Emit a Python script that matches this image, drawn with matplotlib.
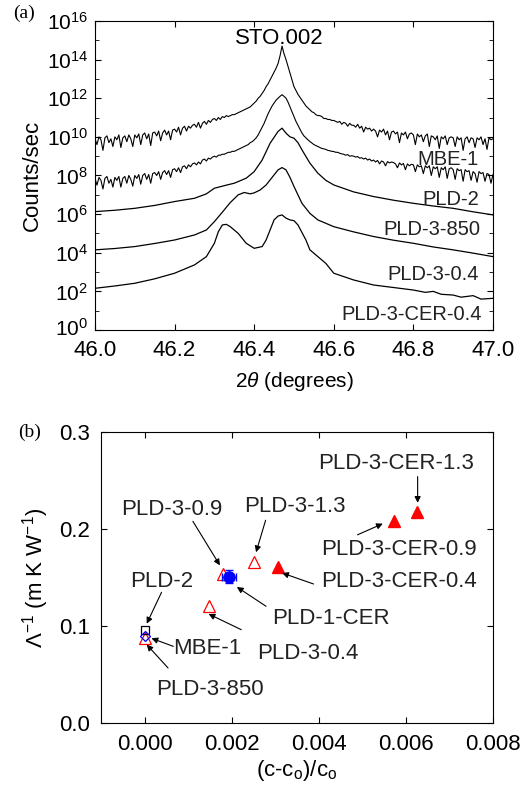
import numpy as np
import matplotlib
matplotlib.use('Agg')
import matplotlib.pyplot as plt
from matplotlib.transforms import ScaledTranslation

plt.rcParams['font.family'] = ['Liberation Sans', 'DejaVu Sans']
plt.rcParams['mathtext.fontset'] = 'custom'
plt.rcParams['mathtext.rm'] = 'Liberation Sans'
plt.rcParams['mathtext.it'] = 'Liberation Sans:italic'
plt.rcParams['mathtext.bf'] = 'Liberation Sans:bold'

# ---- panel (a): XRD scans, log10(counts/sec) ----
x_fine = np.round(np.linspace(46.0, 47.0, 201), 3)

mbe1 = [9.9, 9.6, 10.0, 9.85, 9.3, 9.95, 10.05, 9.7, 9.9, 9.5,
        10.0, 9.85, 10.1, 9.45, 9.95, 10.05, 9.75, 10.1, 9.9, 9.5,
        10.1, 9.95, 10.15, 9.6, 10.1, 10.2, 9.9, 10.15, 9.55, 10.2,
        10.25, 10.05, 10.3, 9.8, 10.2, 10.35, 10.1, 10.3, 9.85, 10.35,
        10.4, 10.25, 10.5, 10.1, 10.45, 10.55, 10.3, 10.55, 10.45, 10.6,
        10.65, 10.5, 10.75, 10.45, 10.7, 10.8, 10.65, 10.85, 10.75, 10.9,
        10.95, 10.85, 11.0, 10.9, 11.05, 11.0, 11.1, 11.05, 11.1, 11.15,
        11.15, 11.2, 11.25, 11.3, 11.35, 11.4, 11.45, 11.5, 11.55, 11.65,
        11.75, 11.85, 12.0, 12.1, 12.25, 12.4, 12.6, 12.75, 12.95, 13.15,
        13.35, 13.55, 13.8, 14.2, 14.7, 14.3, 14.0, 13.65, 13.3, 12.95,
        12.6, 12.4, 12.2, 12.05, 11.9, 11.75, 11.6, 11.5, 11.4, 11.3,
        11.25, 11.15, 11.1, 11.1, 11.05, 10.95, 10.95, 10.9, 10.9, 10.85,
        10.85, 10.8, 10.75, 10.8, 10.65, 10.75, 10.7, 10.55, 10.7, 10.6,
        10.6, 10.5, 10.65, 10.45, 10.55, 10.25, 10.5, 10.4, 10.45, 10.3,
        10.4, 10.3, 10.0, 10.35, 10.25, 10.4, 10.1, 10.3, 9.85, 10.25,
        10.3, 10.15, 10.25, 9.7, 10.2, 10.1, 10.25, 9.9, 10.15, 10.2,
        10.1, 9.6, 10.15, 10.0, 10.1, 9.75, 10.05, 10.15, 9.5, 10.05,
        10.0, 9.85, 10.05, 9.4, 10.0, 9.9, 10.05, 9.6, 9.95, 10.0,
        9.95, 9.5, 10.0, 9.85, 9.95, 9.3, 9.9, 10.0, 9.7, 9.95,
        9.9, 9.45, 9.95, 9.85, 10.0, 9.6, 9.9, 9.35, 9.95, 9.85,
        9.9]

pld2 = [7.85, 7.5, 7.9, 7.75, 7.3, 7.85, 7.95, 7.6, 7.8, 7.4,
        7.9, 7.75, 7.95, 7.4, 7.85, 7.95, 7.6, 8.0, 7.8, 7.45,
        8.0, 7.85, 8.05, 7.55, 8.0, 8.1, 7.8, 8.05, 7.6, 8.1,
        8.15, 8.0, 8.2, 7.8, 8.15, 8.25, 8.05, 8.25, 7.9, 8.3,
        8.35, 8.2, 8.4, 8.15, 8.45, 8.5, 8.35, 8.55, 8.45, 8.6,
        8.65, 8.55, 8.7, 8.6, 8.8, 8.85, 8.75, 8.9, 8.85, 8.95,
        9.0, 8.95, 9.05, 9.05, 9.1, 9.1, 9.15, 9.2, 9.2, 9.25,
        9.25, 9.3, 9.35, 9.4, 9.45, 9.5, 9.55, 9.6, 9.7, 9.75,
        9.84, 9.95, 10.1, 10.3, 10.5, 10.7, 10.95, 11.2, 11.4, 11.6,
        11.75, 11.9, 12.0, 12.1, 12.18, 12.1, 12.0, 11.8, 11.55, 11.3,
        11.05, 10.8, 10.6, 10.4, 10.2, 10.05, 9.95, 9.85, 9.76, 9.68,
        9.6, 9.55, 9.5, 9.45, 9.4, 9.38, 9.35, 9.3, 9.28, 9.25,
        9.24, 9.2, 9.2, 9.15, 9.12, 9.1, 9.05, 9.08, 9.0, 9.02,
        9.0, 8.95, 8.98, 8.9, 8.92, 8.85, 8.9, 8.8, 8.85, 8.75,
        8.8, 8.7, 8.78, 8.6, 8.75, 8.7, 8.5, 8.72, 8.65, 8.7,
        8.67, 8.6, 8.4, 8.65, 8.55, 8.62, 8.3, 8.6, 8.5, 8.58,
        8.55, 8.2, 8.55, 8.45, 8.5, 8.1, 8.5, 8.4, 8.5, 8.0,
        8.45, 8.35, 8.45, 7.9, 8.4, 8.3, 8.45, 7.85, 8.35, 8.4,
        8.3, 7.8, 8.35, 8.25, 8.3, 7.7, 8.3, 8.2, 8.25, 7.75,
        8.2, 8.1, 7.65, 8.2, 8.1, 8.15, 7.7, 8.1, 8.05, 7.6,
        8.05]

x_850 = [46.00, 46.05, 46.10, 46.15, 46.20, 46.25, 46.28, 46.30, 46.33, 46.35,
         46.38, 46.40, 46.42, 46.44, 46.46, 46.47, 46.48, 46.49, 46.50, 46.51,
         46.52, 46.54, 46.56, 46.58, 46.60, 46.65, 46.70, 46.75, 46.80, 46.85,
         46.90, 46.95, 47.00]
pld3_850 = [6.13, 6.2, 6.3, 6.45, 6.65, 6.82, 7.05, 7.34, 7.5, 7.6,
            7.86, 8.2, 8.8, 9.67, 10.28, 10.45, 10.19, 10.0, 9.93, 9.7,
            9.33, 8.64, 8.12, 7.75, 7.51, 7.15, 6.91, 6.72, 6.56, 6.42,
            6.3, 6.12, 5.96]

x_04 = [46.00, 46.05, 46.10, 46.15, 46.20, 46.25, 46.28, 46.30, 46.32, 46.34,
        46.36, 46.375, 46.39, 46.40, 46.415, 46.43, 46.45, 46.46, 46.47, 46.48,
        46.49, 46.50, 46.52, 46.54, 46.56, 46.60, 46.65, 46.70, 46.75, 46.80,
        46.85, 46.90, 46.95, 47.00]
pld3_04 = [4.15, 4.22, 4.32, 4.48, 4.66, 4.92, 5.18, 5.61, 6.1, 6.6,
           7.0, 7.12, 7.05, 7.1, 7.25, 7.51, 8.03, 8.29, 8.41, 8.29,
           7.9, 7.43, 6.56, 6.04, 5.7, 5.35, 5.08, 4.84, 4.65, 4.49,
           4.3, 4.15, 3.98, 3.8]

x_cer = [46.00, 46.05, 46.10, 46.15, 46.20, 46.25, 46.28, 46.30, 46.31, 46.32,
         46.33, 46.34, 46.36, 46.38, 46.40, 46.42, 46.43, 46.44, 46.45, 46.46,
         46.47, 46.48, 46.49, 46.50, 46.51, 46.53, 46.54, 46.56, 46.58, 46.60,
         46.65, 46.70, 46.75, 46.80, 46.83, 46.85, 46.87, 46.90, 46.92, 46.95,
         46.97, 47.00]
pld3_cer04 = [2.16, 2.28, 2.42, 2.65, 2.94, 3.37, 3.8, 4.49, 5.09, 5.44,
              5.47, 5.35, 5.0, 4.49, 4.23, 4.32, 4.66, 5.18, 5.7, 5.9,
              5.96, 5.79, 5.7, 5.66, 5.44, 4.66, 4.15, 3.8, 3.45, 2.94,
              2.59, 2.33, 2.2, 2.07, 1.95, 2.0, 1.85, 1.81, 1.7, 1.78,
              1.6, 1.64]

scan_names = ['MBE-1', 'PLD-2', 'PLD-3-850', 'PLD-3-0.4', 'PLD-3-CER-0.4']

# ---- panel (b): inverse thermal conductivity vs strain ----
open_tri_names = ['PLD-3-850', 'PLD-3-0.4', 'PLD-3-0.9', 'PLD-3-1.3']
open_tri_x = [0.0, 0.00147, 0.00179, 0.00251]
open_tri_y = [0.088, 0.121, 0.154, 0.166]

fill_tri_names = ['PLD-3-CER-0.4', 'PLD-3-CER-0.9', 'PLD-3-CER-1.3']
fill_tri_x = [0.00307, 0.00572, 0.00626]
fill_tri_y = [0.161, 0.208, 0.217]

pld2_x, pld2_y = 0.0, 0.096
mbe1_x, mbe1_y = 0.0, 0.090
cer1_x, cer1_y = 0.00193, 0.151
cer1_xerr, cer1_yerr = 0.00016, 0.0065

fig = plt.figure(figsize=(5.23, 7.88), dpi=100)

# ---------------- (a) ----------------
ax1 = fig.add_axes([0.1816, 0.5812, 0.761, 0.3922])
ax1.plot(x_fine, 10 ** np.array(mbe1), color='black', lw=0.8)
ax1.plot(x_fine, 10 ** np.array(pld2), color='black', lw=0.8)
ax1.plot(x_850, 10 ** np.array(pld3_850), color='black', lw=0.9)
ax1.plot(x_04, 10 ** np.array(pld3_04), color='black', lw=0.9)
ax1.plot(x_cer, 10 ** np.array(pld3_cer04), color='black', lw=0.9)
ax1.set_yscale('log')
ax1.set_xlim(46.0, 47.0)
ax1.set_ylim(1, 1e16)
ax1.set_yticks(10.0 ** np.arange(0, 17, 2))
ax1.set_yticks(10.0 ** np.arange(1, 17, 2), minor=True)
ax1.set_yticklabels(['10$^{%d}$' % p for p in range(0, 17, 2)])
ax1.yaxis.set_minor_formatter(plt.NullFormatter())
ax1.set_xticks(np.arange(46.0, 47.01, 0.2))
ax1.set_xticklabels(['%.1f' % v for v in np.arange(46.0, 47.01, 0.2)])
ax1.tick_params(which='both', direction='in', top=True, right=True)
ax1.tick_params(axis='x', labelsize=16, pad=7)
ax1.tick_params(axis='y', labelsize=15, pad=5)
ax1.tick_params(which='major', length=4)
ax1.tick_params(which='minor', length=3)
ax1.set_xlabel(r'2$\it{\theta}$ (degrees)', fontsize=15, labelpad=7)
ax1.set_ylabel('Counts/sec', fontsize=16, labelpad=3)
# lift the 10^0 label a couple of points so it clears the 46.0 label
lab0 = ax1.get_yticklabels()[0]
lab0.set_transform(lab0.get_transform() + ScaledTranslation(0, 2.5 / 72, fig.dpi_scale_trans))

ax1.text(46.4636, 10 ** 15.1, 'STO.002', fontsize=16, ha='center', va='center')
label_x = [46.964, 46.964, 46.968, 46.964, 46.972]
label_y = [8.84, 6.74, 5.18, 2.85, 0.78]
for name, lx, ly in zip(scan_names, label_x, label_y):
    ax1.text(lx, 10 ** ly, name, fontsize=14.5, ha='right', va='center', color='#222222')

fig.text(0.025, 0.983, '(a)', fontsize=14, family=['Liberation Serif', 'DejaVu Serif'],
         ha='left', va='center')

# ---------------- (b) ----------------
ax2 = fig.add_axes([0.1931, 0.0825, 0.7495, 0.3693])
ax2.plot(open_tri_x, open_tri_y, '^', ms=8, mfc='white', mec='red', mew=0.9, ls='none')
ax2.plot(fill_tri_x, fill_tri_y, '^', ms=8, mfc='red', mec='red', ls='none')
ax2.plot([pld2_x], [pld2_y], 's', ms=6, mfc='none', mec='black', mew=0.9)
ax2.plot([mbe1_x], [mbe1_y], 'D', ms=5, mfc='none', mec='blue', mew=0.9)
ax2.errorbar([cer1_x], [cer1_y], xerr=[cer1_xerr], yerr=[cer1_yerr], fmt='o', ms=8,
             color='blue', ecolor='blue', elinewidth=0.9, capsize=3)
ax2.set_xlim(-0.001, 0.008)
ax2.set_ylim(0.0, 0.3)
ax2.set_xticks([0.0, 0.002, 0.004, 0.006, 0.008])
ax2.set_xticklabels(['0.000', '0.002', '0.004', '0.006', '0.008'])
ax2.set_yticks([0.0, 0.1, 0.2, 0.3])
ax2.set_yticklabels(['0.0', '0.1', '0.2', '0.3'])
ax2.tick_params(direction='in', top=True, right=True, labelsize=16, length=4, pad=8)
ax2.set_xlabel(r'(c-c$_\mathregular{o}$)/c$_\mathregular{o}$', fontsize=16, labelpad=2)
ax2.set_ylabel(r'$\mathit{\Lambda}^{-1}$ (m K W$^{-1}$)', fontsize=16, labelpad=6)

# label text centres and arrow (start -> end) for each sample
notes = [
    ('PLD-3-CER-1.3', (0.00578, 0.268), (0.00627, 0.254), (0.00627, 0.227)),
    ('PLD-3-CER-0.9', (0.00585, 0.179), (0.00489, 0.194), (0.00547, 0.2055)),
    ('PLD-3-CER-0.4', (0.00585, 0.146), (0.00388, 0.1433), (0.00316, 0.1546)),
    ('PLD-1-CER', (0.00427, 0.108), (0.00279, 0.1203), (0.00212, 0.1402)),
    ('PLD-3-0.4', (0.00376, 0.0715), (0.00222, 0.0962), (0.00147, 0.1124)),
    ('PLD-3-1.3', (0.00345, 0.2234), (0.00278, 0.209), (0.00256, 0.176)),
    ('PLD-3-0.9', (0.00063, 0.2206), (0.00111, 0.2079), (0.00173, 0.1625)),
    ('PLD-2', (0.00039, 0.146), (0.00039, 0.1347), (0.00005, 0.1024)),
    ('MBE-1', (0.00144, 0.0763), (0.00066, 0.079), (0.00016, 0.0873)),
    ('PLD-3-850', (0.00149, 0.0344), (0.00054, 0.0567), (0.00005, 0.0808)),
]
for name, tpos, a0, a1 in notes:
    ax2.text(tpos[0], tpos[1], name, fontsize=16, ha='center', va='center', color='#222222')
    ax2.annotate('', xy=a1, xytext=a0,
                 arrowprops=dict(arrowstyle='-|>', color='black', lw=0.8,
                                 mutation_scale=9, shrinkA=0, shrinkB=0))

fig.text(0.035, 0.451, '(b)', fontsize=14, family=['Liberation Serif', 'DejaVu Serif'],
         ha='left', va='center')

fig.savefig('out.png', dpi=100)
